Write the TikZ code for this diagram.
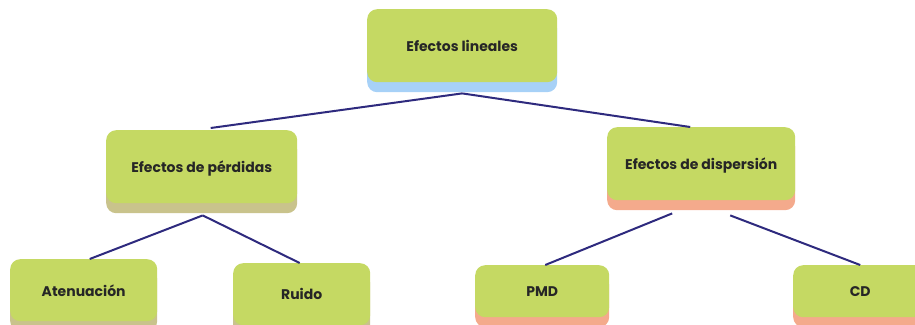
\documentclass[tikz,border=0pt]{standalone}
\usepackage{fontspec}
\setmainfont{Poppins}
\usetikzlibrary{calc}
\definecolor{boxgreen}{HTML}{C5D963}
\definecolor{shblue}{HTML}{A7D1F7}
\definecolor{sholive}{HTML}{C9C38C}
\definecolor{shsalmon}{HTML}{F4AA8C}
\definecolor{linknavy}{HTML}{2E2A7E}
\tikzset{
  box/.style={fill=boxgreen, rounded corners=10pt, anchor=north west, inner sep=0pt,
    font=\fontsize{14}{16}\selectfont\bfseries, text=black!85, text depth=0pt},
  sh/.style={preaction={fill=#1, rounded corners=10pt, transform canvas={yshift=-10pt}}},
  link/.style={draw=linknavy, line width=2pt}
}
\begin{document}
\begin{tikzpicture}[x=1pt,y=-1pt]
\useasboundingbox (0,0) rectangle (915,324);
\clip (0,0) rectangle (915,324);
\node[box, sh=shblue, minimum width=190pt, minimum height=73pt] (top) at (367,9) {Efectos lineales};
\node[box, sh=sholive, minimum width=191pt, minimum height=73pt] (loss) at (106,130) {Efectos de pérdidas};
\node[box, sh=shsalmon, minimum width=188pt, minimum height=73pt] (disp) at (607,127) {Efectos de dispersión};
\node[box, sh=sholive, minimum width=147pt, minimum height=62pt] (aten) at (10,259) {Atenuación};
\node[box, sh=sholive, minimum width=137pt, minimum height=62pt] (ruido) at (233,263) {Ruido};
\node[box, sh=shsalmon, minimum width=134pt, minimum height=52pt] (pmd) at (475,265) {PMD};
\node[box, sh=shsalmon, minimum width=134pt, minimum height=52pt] (cd) at (793,265) {CD};
\coordinate (topb) at ($(top.south)+(0,11)$);
\coordinate (lossb) at ($(loss.south)+(1,12)$);
\draw[link] (topb) -- ($(loss.north)+(9,-2)$);
\draw[link] (topb) -- ($(disp.north)+(-11,0)$);
\draw[link] (lossb) -- ($(aten.north)+(6,0)$);
\draw[link] (lossb) -- ($(ruido.north)+(-2,0)$);
\draw[link] ($(disp.south)+(-29,13)$) -- ($(pmd.north)+(3,0)$);
\draw[link] ($(disp.south)+(29,15)$) -- (cd.north);
\end{tikzpicture}
\end{document}
